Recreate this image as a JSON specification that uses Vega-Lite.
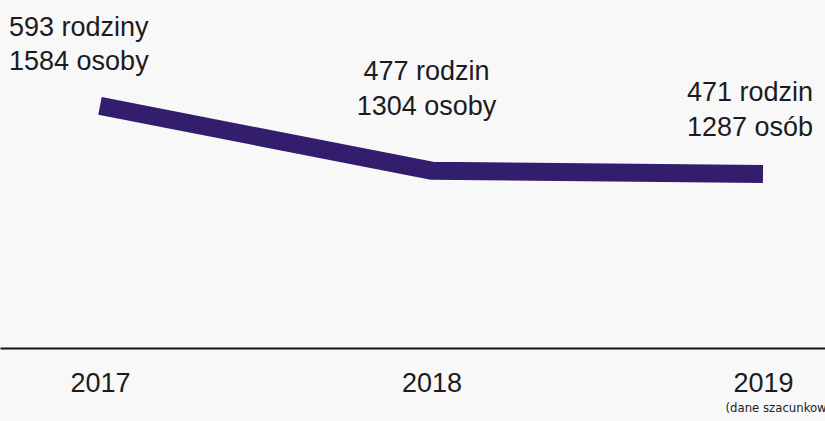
{
  "$schema": "https://vega.github.io/schema/vega-lite/v6.json",
  "width": 825,
  "height": 348,
  "autosize": {"type": "none"},
  "padding": {"left": 0, "top": 0, "right": 0, "bottom": 73},
  "background": "#f8f8f8",
  "config": {"view": {"stroke": null}, "font": "Liberation Sans"},
  "data": {"values": [
    {"year": 2017, "families": 593, "persons": 1584, "label": "593 rodziny\n1584 osoby"},
    {"year": 2018, "families": 477, "persons": 1304, "label": "477 rodzin\n1304 osoby"},
    {"year": 2019, "families": 471, "persons": 1287, "label": "471 rodzin\n1287 osób"}
  ]},
  "layer": [
    {
      "mark": {"type": "line", "color": "#321e6c", "strokeWidth": 18, "strokeCap": "butt", "strokeJoin": "miter"},
      "encoding": {
        "x": {"field": "year", "type": "quantitative",
              "scale": {"domain": [2016.6983, 2019.187], "nice": false, "zero": false},
              "axis": {"orient": "bottom", "values": [2017, 2018, 2019], "format": "d", "title": null, "grid": false,
                       "domainColor": "#161616", "domainWidth": 2, "ticks": false, "tickSize": 0,
                       "labelFontSize": 27, "labelColor": "#1c1c1c", "labelFont": "Liberation Sans",
                       "labelPadding": 35.6, "labelBaseline": "middle", "labelFlush": false, "labelOverlap": false}},
        "y": {"field": "families", "type": "quantitative",
              "scale": {"domain": [159.6, 782.45], "nice": false, "zero": false}, "axis": null}
      }
    },
    {
      "transform": [{"filter": "datum.year == 2017"}],
      "mark": {"type": "text", "align": "left", "baseline": "top", "dx": -91, "dy": -91, "fontSize": 27, "lineHeight": 34, "lineBreak": "\n", "color": "#1c1c1c", "font": "Liberation Sans"},
      "encoding": {
        "x": {"field": "year", "type": "quantitative", "axis": null},
        "y": {"field": "families", "type": "quantitative", "axis": null},
        "text": {"field": "label"}
      }
    },
    {
      "transform": [{"filter": "datum.year == 2018"}],
      "mark": {"type": "text", "align": "center", "baseline": "top", "dx": -5, "dy": -112, "fontSize": 27, "lineHeight": 35, "lineBreak": "\n", "color": "#1c1c1c", "font": "Liberation Sans"},
      "encoding": {
        "x": {"field": "year", "type": "quantitative", "axis": null},
        "y": {"field": "families", "type": "quantitative", "axis": null},
        "text": {"field": "label"}
      }
    },
    {
      "transform": [{"filter": "datum.year == 2019"}],
      "mark": {"type": "text", "align": "left", "baseline": "top", "dx": -76, "dy": -94, "fontSize": 27, "lineHeight": 35, "lineBreak": "\n", "color": "#1c1c1c", "font": "Liberation Sans"},
      "encoding": {
        "x": {"field": "year", "type": "quantitative",
              "axis": {"orient": "bottom", "values": [2019], "labelExpr": "'(dane szacunkowe)'", "title": null, "grid": false,
                       "domain": false, "ticks": false, "tickSize": 0,
                       "labelFontSize": 13, "labelColor": "#222222", "labelFont": "Liberation Sans Narrow, DejaVu Sans Condensed, Liberation Sans",
                       "labelPadding": 59, "labelBaseline": "middle", "labelAlign": "left", "labelOffset": -38,
                       "labelFlush": false, "labelOverlap": false}},
        "y": {"field": "families", "type": "quantitative", "axis": null},
        "text": {"field": "label"}
      }
    }
  ],
  "resolve": {"axis": {"x": "independent"}}
}
